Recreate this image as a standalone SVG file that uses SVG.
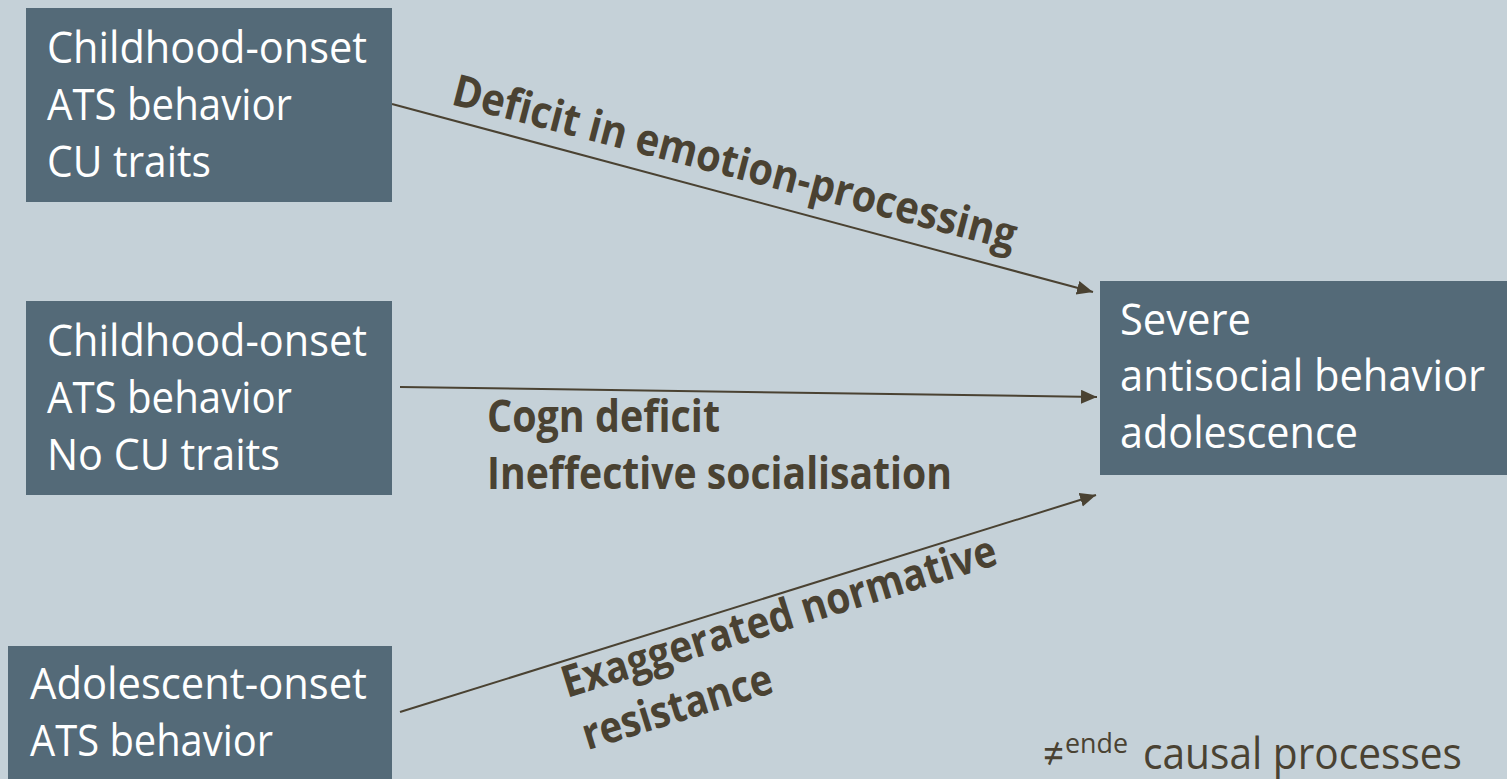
<svg xmlns="http://www.w3.org/2000/svg" width="1507" height="779" viewBox="0 0 1507 779">
<style>
.box{fill:#546A78}
.nt{font-family:"Open Sans","Liberation Sans",sans-serif;font-size:44px;fill:#FFFFFF}
.lb{font-family:"Open Sans","Liberation Sans",sans-serif;font-size:44px;font-weight:bold;fill:#4A4232}
.nt2{font-family:"Open Sans","Liberation Sans",sans-serif;font-size:44px;fill:#4A4232}
.sup{font-family:"Open Sans","Liberation Sans",sans-serif;font-size:28px;fill:#4A4232}
.conn{stroke:#4A4232;stroke-width:2;fill:none;marker-end:url(#ah)}
</style>
<defs>
<marker id="ah" markerUnits="userSpaceOnUse" markerWidth="17" markerHeight="15" refX="16" refY="7" orient="auto">
<path d="M0,0 L16,7 L0,14 z" fill="#4A4232"/>
</marker>
</defs>
<rect x="0" y="0" width="1507" height="779" fill="#C5D1D8"/>
<g id="connectors">
<line class="conn" x1="392" y1="104" x2="1093" y2="292"/>
<line class="conn" x1="400" y1="387" x2="1097" y2="397"/>
<line class="conn" x1="400" y1="712" x2="1096" y2="495"/>
</g>
<g id="node-cu">
<rect class="box" x="26" y="8" width="366" height="194"/>
<text class="nt" x="47" y="63" textLength="320" lengthAdjust="spacingAndGlyphs">Childhood-onset</text>
<text class="nt" x="47" y="120" textLength="245" lengthAdjust="spacingAndGlyphs">ATS behavior</text>
<text class="nt" x="47" y="177" textLength="164" lengthAdjust="spacingAndGlyphs">CU traits</text>
</g>
<g id="node-nocu">
<rect class="box" x="26" y="301" width="366" height="194"/>
<text class="nt" x="47" y="356" textLength="320" lengthAdjust="spacingAndGlyphs">Childhood-onset</text>
<text class="nt" x="47" y="413" textLength="245" lengthAdjust="spacingAndGlyphs">ATS behavior</text>
<text class="nt" x="47" y="470" textLength="233" lengthAdjust="spacingAndGlyphs">No CU traits</text>
</g>
<g id="node-adol">
<rect class="box" x="8" y="646" width="384" height="140"/>
<text class="nt" x="30" y="699" textLength="337" lengthAdjust="spacingAndGlyphs">Adolescent-onset</text>
<text class="nt" x="30" y="756" textLength="243" lengthAdjust="spacingAndGlyphs">ATS behavior</text>
</g>
<g id="node-severe">
<rect class="box" x="1100" y="281" width="420" height="194"/>
<text class="nt" x="1120" y="335" textLength="131" lengthAdjust="spacingAndGlyphs">Severe</text>
<text class="nt" x="1120" y="391" textLength="365" lengthAdjust="spacingAndGlyphs">antisocial behavior</text>
<text class="nt" x="1120" y="448" textLength="238" lengthAdjust="spacingAndGlyphs">adolescence</text>
</g>
<g id="labels">
<text class="lb" transform="translate(450,104) rotate(14.6)" x="0" y="0" textLength="581" lengthAdjust="spacingAndGlyphs">Deficit in emotion-processing</text>
<text class="lb" x="487" y="432" textLength="233" lengthAdjust="spacingAndGlyphs">Cogn deficit</text>
<text class="lb" x="487" y="489" textLength="465" lengthAdjust="spacingAndGlyphs">Ineffective socialisation</text>
<g transform="translate(567,698) rotate(-17.2)">
<text class="lb" x="0" y="0" textLength="453" lengthAdjust="spacingAndGlyphs">Exaggerated normative</text>
<text class="lb" x="4" y="56" textLength="197" lengthAdjust="spacingAndGlyphs">resistance</text>
</g>
</g>
<g id="note">
<text class="nt2" x="1043" y="769" textLength="21" lengthAdjust="spacingAndGlyphs">≠</text>
<text class="sup" x="1065" y="753" textLength="63" lengthAdjust="spacingAndGlyphs">ende</text>
<text class="nt2" x="1143" y="769" textLength="319" lengthAdjust="spacingAndGlyphs">causal processes</text>
</g>
</svg>
